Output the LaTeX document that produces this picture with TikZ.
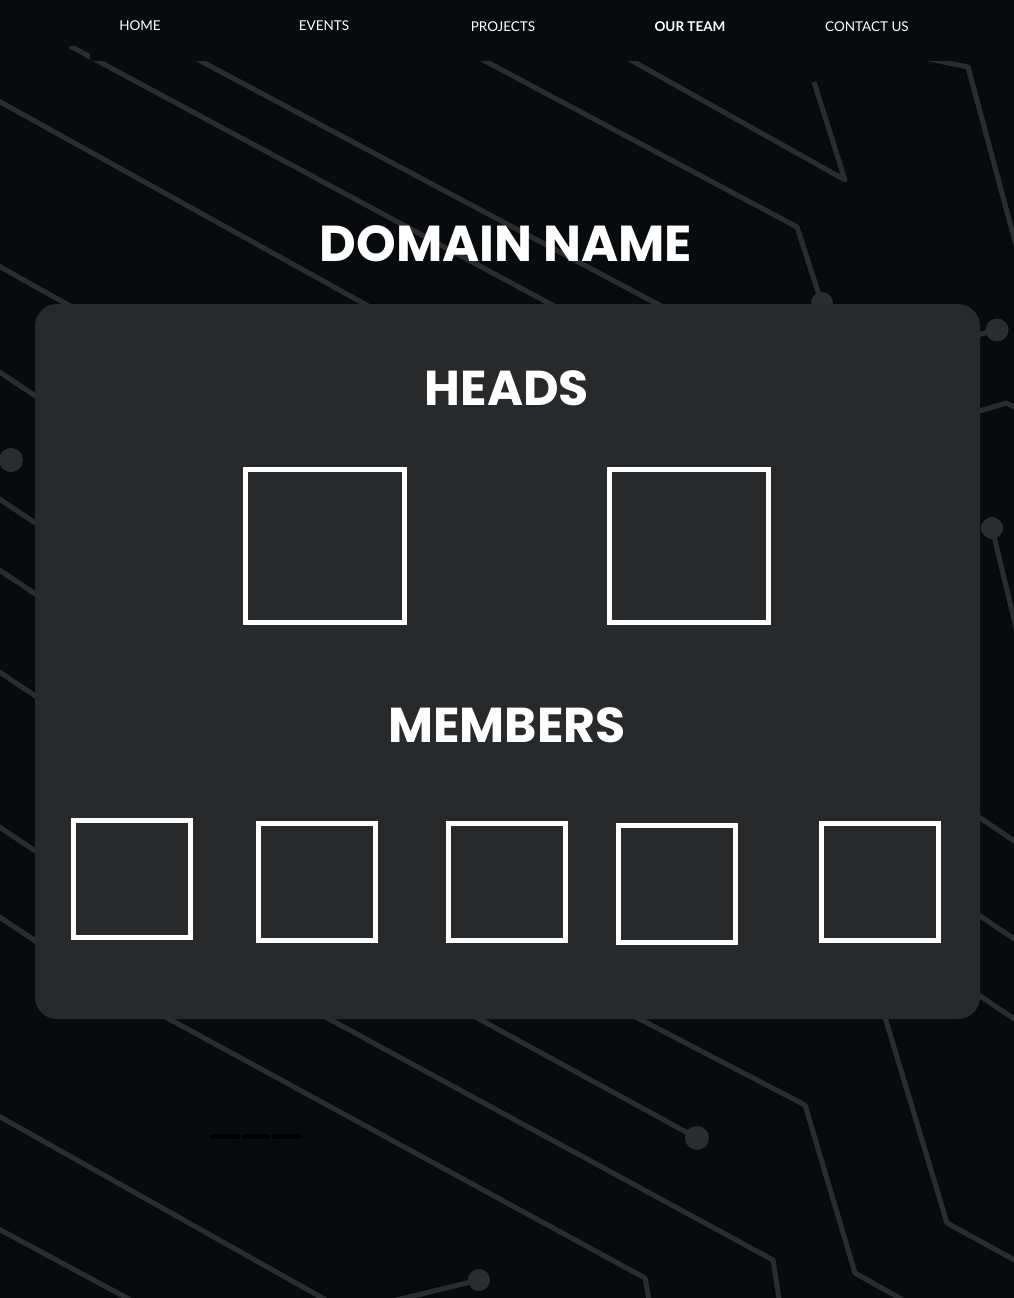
\documentclass[tikz,border=0pt]{standalone}
\usepackage{fontspec}
\setmainfont{Lato}
\newfontfamily\headingfont{Poppins}
\newlength{\du}
\setlength{\du}{1pt}
\definecolor{pagecolor}{rgb}{0.031373, 0.043137, 0.054902}
\definecolor{tracecolor}{rgb}{0.168627, 0.172549, 0.180392}
\definecolor{panelcolor}{rgb}{0.156863, 0.160784, 0.168627}
\tikzset{
  trace/.style={draw=tracecolor, line width=5\du, line join=round},
  tracepad/.style={fill=tracecolor},
  navlink/.style={text=white, inner sep=0pt, font=\fontsize{13.5\du}{16\du}\selectfont},
  heading/.style={text=white, inner sep=0pt, font=\headingfont\bfseries\fontsize{49\du}{56\du}\selectfont},
  photobox/.style={draw=white, line width=5\du, fill=panelcolor, inner sep=0pt},
}

\begin{document}
\begin{tikzpicture}
\pgftransformxscale{1.000000}
\pgftransformyscale{-1.000000}
\useasboundingbox (0\du,0\du) rectangle (1014\du,1298\du);
\fill[pagecolor] (0\du,0\du) rectangle (1014\du,1298\du);
% traces above the panel
\draw[trace] (70\du,46\du)--(556\du,307\du);
\draw[trace] (180\du,50\du)--(663\du,307\du);
\draw[trace] (-5\du,99\du)--(370\du,307\du);
\draw[trace] (-5\du,264\du)--(72\du,307\du);
\draw[trace] (470\du,53\du)--(797\du,227\du)--(822\du,304\du);
\fill[tracepad] (822\du,303\du) circle (11\du);
\draw[trace] (620\du,54\du)--(845\du,180\du)--(814\du,82\du);
\draw[trace] (900\du,53\du)--(968\du,67\du)--(1020\du,260\du);
% traces right of the panel
\draw[trace] (970\du,337\du)--(996\du,330\du);
\fill[tracepad] (997\du,330\du) circle (11.5\du);
\draw[trace] (970\du,414\du)--(1006\du,403\du)--(1020\du,410\du);
\draw[trace] (992\du,528\du)--(1019\du,640\du);
\fill[tracepad] (992\du,528\du) circle (11\du);
\draw[trace] (970\du,811\du)--(1020\du,845\du);
\draw[trace] (970\du,909\du)--(1020\du,943\du);
\draw[trace] (970\du,989\du)--(1020\du,1023\du);
% traces left of the panel
\draw[trace] (-5\du,369\du)--(40\du,399\du);
\draw[trace] (-5\du,496\du)--(40\du,526\du);
\draw[trace] (-5\du,567\du)--(40\du,597\du);
\draw[trace] (-5\du,669\du)--(40\du,699\du);
\draw[trace] (-5\du,824\du)--(40\du,854\du);
\draw[trace] (-5\du,914\du)--(40\du,944\du);
\fill[tracepad] (11\du,460\du) circle (12\du);
% traces below the panel
\draw[trace] (160\du,1014\du)--(645\du,1278\du)--(650\du,1305\du);
\draw[trace] (320\du,1014\du)--(773\du,1260\du)--(780\du,1305\du);
\draw[trace] (470\du,1014\du)--(697\du,1138\du);
\fill[tracepad] (697\du,1138\du) circle (12\du);
\draw[trace] (630\du,1014\du)--(805\du,1105\du)--(855\du,1273\du)--(912\du,1305\du);
\draw[trace] (884\du,1014\du)--(947\du,1223\du)--(1020\du,1263\du);
\draw[trace] (-5\du,1114\du)--(335\du,1305\du);
\draw[trace] (-5\du,1227\du)--(140\du,1305\du);
\draw[trace] (380\du,1304\du)--(479\du,1280\du);
\fill[tracepad] (479\du,1280\du) circle (11\du);
\fill[black] (210\du,1134\du) rectangle (239\du,1139\du);
\fill[black] (242\du,1134\du) rectangle (270\du,1139\du);
\fill[black] (273\du,1134\du) rectangle (301\du,1139\du);
% navigation bar
\fill[pagecolor] (0\du,0\du) rectangle (1014\du,46\du);
\fill[pagecolor] (90\du,0\du) rectangle (1014\du,61\du);
\node[navlink] (navhome) at (140\du,26\du) {HOME};
\node[navlink] (navevents) at (324\du,26\du) {EVENTS};
\node[navlink] (navprojects) at (503\du,27\du) {PROJECTS};
\node[navlink, font=\bfseries\fontsize{13.5\du}{16\du}\selectfont] (navteam) at (690\du,27\du) {OUR TEAM};
\node[navlink] (navcontact) at (867\du,27\du) {CONTACT US};
% setfont left to latex
\node[heading, font=\headingfont\bfseries\fontsize{50.5\du}{58\du}\selectfont] (domain) at (506\du,244\du) {DOMAIN NAME};
% team panel
\fill[panelcolor, rounded corners=22\du] (35\du,304\du) rectangle (980\du,1019\du);
\node[heading] (heads) at (507\du,388\du) {HEADS};
\node[photobox, minimum width=159\du, minimum height=153\du] (headone) at (324.5\du,545.5\du) {};
\node[photobox, minimum width=159\du, minimum height=153\du] (headtwo) at (688.5\du,545.5\du) {};
\node[heading] (members) at (507\du,725\du) {MEMBERS};
\node[photobox, minimum width=117\du, minimum height=117\du] (memberone) at (132\du,879\du) {};
\node[photobox, minimum width=117\du, minimum height=117\du] (membertwo) at (317\du,882\du) {};
\node[photobox, minimum width=117\du, minimum height=117\du] (memberthree) at (507\du,882\du) {};
\node[photobox, minimum width=117\du, minimum height=117\du] (memberfour) at (677\du,883.5\du) {};
\node[photobox, minimum width=117\du, minimum height=117\du] (memberfive) at (880\du,882\du) {};
\end{tikzpicture}
\end{document}
